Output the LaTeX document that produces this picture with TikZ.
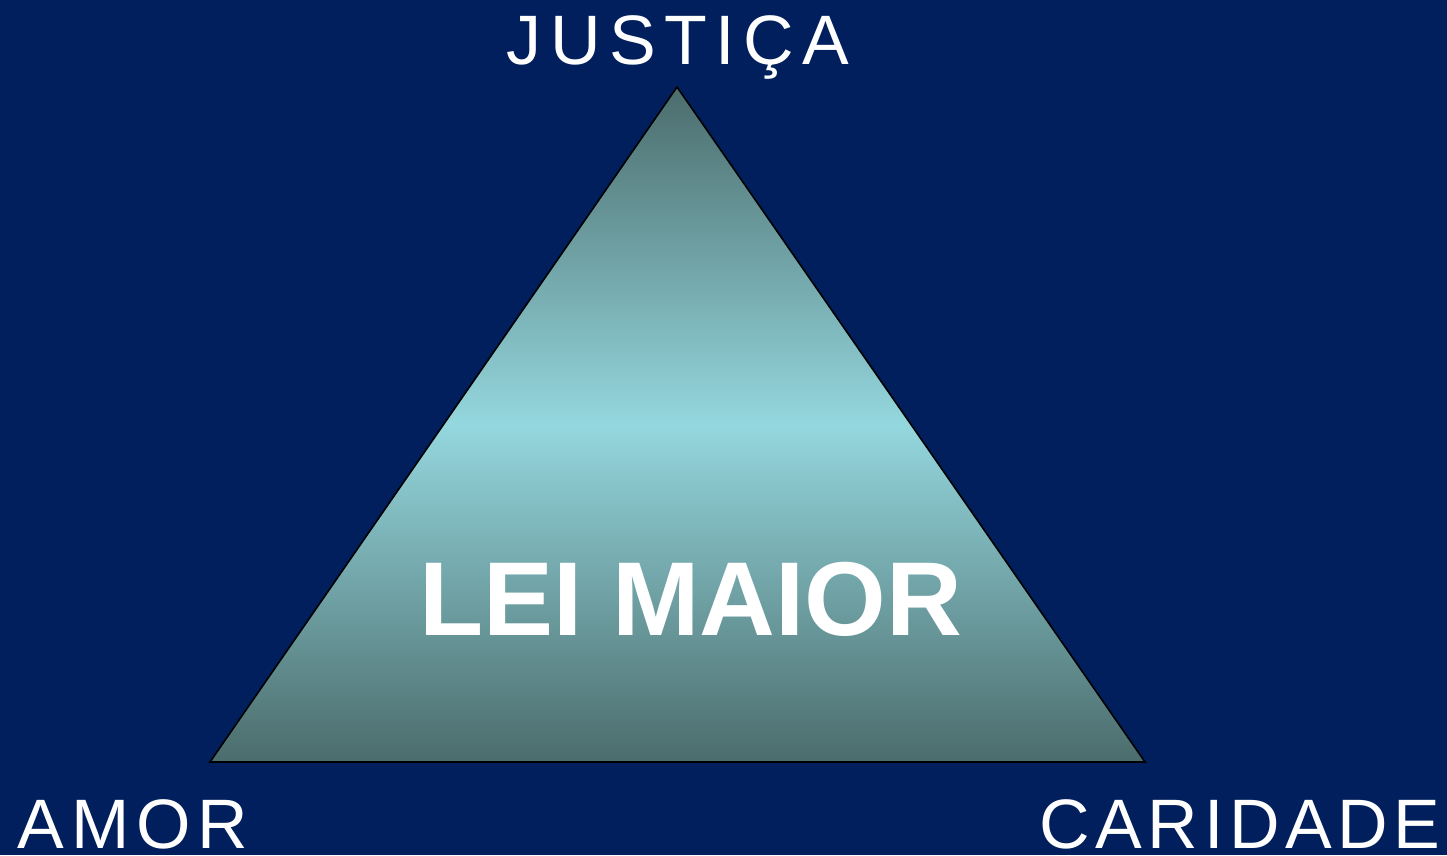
\documentclass[tikz,border=0pt]{standalone}
\usepackage{fontspec}
\setmainfont{Liberation Sans}
\usetikzlibrary{positioning}

\definecolor{navybg}{HTML}{001F5C}
\definecolor{slatedark}{HTML}{4B6C6C}
\definecolor{cyanlight}{HTML}{94D7DE}

\tikzset{
  vertexlabel/.style={text=white, font=\fontsize{70}{84}\selectfont\addfontfeatures{LetterSpace=#1}, inner sep=0pt, anchor=base},
  vertexlabel/.default=8,
  lawtitle/.style={text=white, font=\bfseries\fontsize{105}{126}\selectfont, inner sep=0pt, anchor=base}
}

\begin{document}
\begin{tikzpicture}[x=1pt,y=1pt]
    % background
    \fill[navybg] (0,0) rectangle (1447,-855);
    \useasboundingbox (0,0) rectangle (1447,-855);

    % triangle corners
    \coordinate (top) at (677,-87);
    \coordinate (left) at (210,-762);
    \coordinate (right) at (1145,-762);

    \shade[top color=slatedark, bottom color=slatedark, middle color=cyanlight]
        (top) -- (right) -- (left) -- cycle;
    \draw[black, line width=1.6pt, line join=miter] (top) -- (right) -- (left) -- cycle;

    % labels
    \node[vertexlabel=12] (justica) at (678,-64) {JUSTIÇA};
    \node[vertexlabel=10] (amor) at (133,-848) {AMOR};
    \node[vertexlabel=8] (caridade) at (1240,-848) {CARIDADE};
    \node[lawtitle] (leimaior) at (691,-635) {LEI MAIOR};
\end{tikzpicture}
\end{document}
